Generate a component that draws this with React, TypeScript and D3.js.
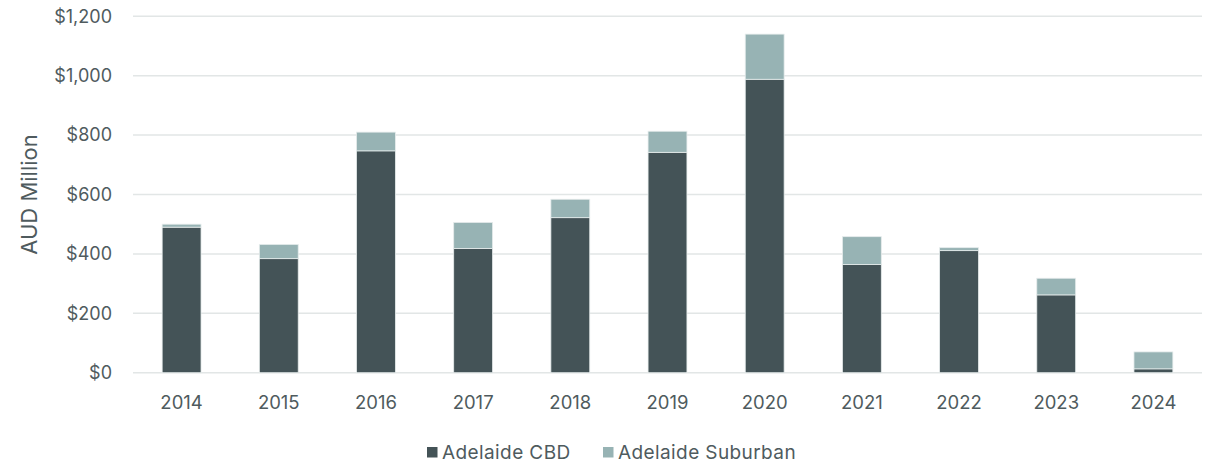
import React from "react";
import * as d3 from "d3";

const years = ["2014","2015","2016","2017","2018","2019","2020","2021","2022","2023","2024"];
const cbd = [490, 384, 747, 418, 522, 742, 988, 364, 411, 262, 13];
const suburban = [10, 48, 63, 88, 62, 71, 152, 94, 10, 56, 57];
const yTicks = [0, 200, 400, 600, 800, 1000, 1200];
const seriesNames = ["Adelaide CBD", "Adelaide Suburban"];
const seriesColors = ["#445357", "#97b3b4"];

const W = 1215, H = 463;
const left = 133, right = 1202, top = 16.3, bottom = 372.7;
const textColor = "#4f5b5e";
const font = "Inter, 'Noto Sans', sans-serif";

export default function App() {
  const x = d3.scaleBand<string>().domain(years).range([left, right]).paddingInner(0.6).paddingOuter(0.3);
  const y = d3.scaleLinear().domain([0, 1200]).range([bottom, top]);
  const fmt = (v: number) => "$" + d3.format(",")(v);
  const rows = years.map((yr, i) => ({ yr, CBD: cbd[i], Sub: suburban[i] }));
  const stack = d3.stack<any>().keys(["CBD", "Sub"])(rows);

  return (
    <svg width={W} height={H} style={{ position: "absolute", left: 0, top: 0, background: "#fff" }} fontFamily={font}>
      {yTicks.map(t => (
        <g key={t}>
          <line x1={left} x2={right} y1={y(t)} y2={y(t)} stroke="#e2e6e6" strokeWidth={1.5} />
          <text x={112} y={y(t)} dy="0.35em" textAnchor="end" fontSize={18} fill={textColor}>{fmt(t)}</text>
        </g>
      ))}
      {stack.map((s, si) => (
        <g key={si} fill={seriesColors[si]}>
          {s.map((d, i) => (
            <rect key={i} x={x(years[i])} width={x.bandwidth()} y={y(d[1])} height={y(d[0]) - y(d[1])}
              stroke="#e6ecec" strokeWidth={0.8} />
          ))}
        </g>
      ))}
      {years.map(yr => (
        <text key={yr} x={(x(yr) as number) + x.bandwidth() / 2} y={403} dy="0.35em" textAnchor="middle" fontSize={18.5} fill={textColor}>{yr}</text>
      ))}
      <text transform={`translate(29,${(top + bottom) / 2}) rotate(-90)`} textAnchor="middle" dy="0.35em" fontSize={22} fill={textColor}>AUD Million</text>
      <g>
        <rect x={427} y={447} width={10.5} height={10.5} fill={seriesColors[0]} />
        <text x={442} y={452} dy="0.35em" fontSize={19} letterSpacing={0.4} fill={textColor}>{seriesNames[0]}</text>
        <rect x={603} y={447} width={10.5} height={10.5} fill={seriesColors[1]} />
        <text x={618} y={452} dy="0.35em" fontSize={19} letterSpacing={0.4} fill={textColor}>{seriesNames[1]}</text>
      </g>
    </svg>
  );
}
